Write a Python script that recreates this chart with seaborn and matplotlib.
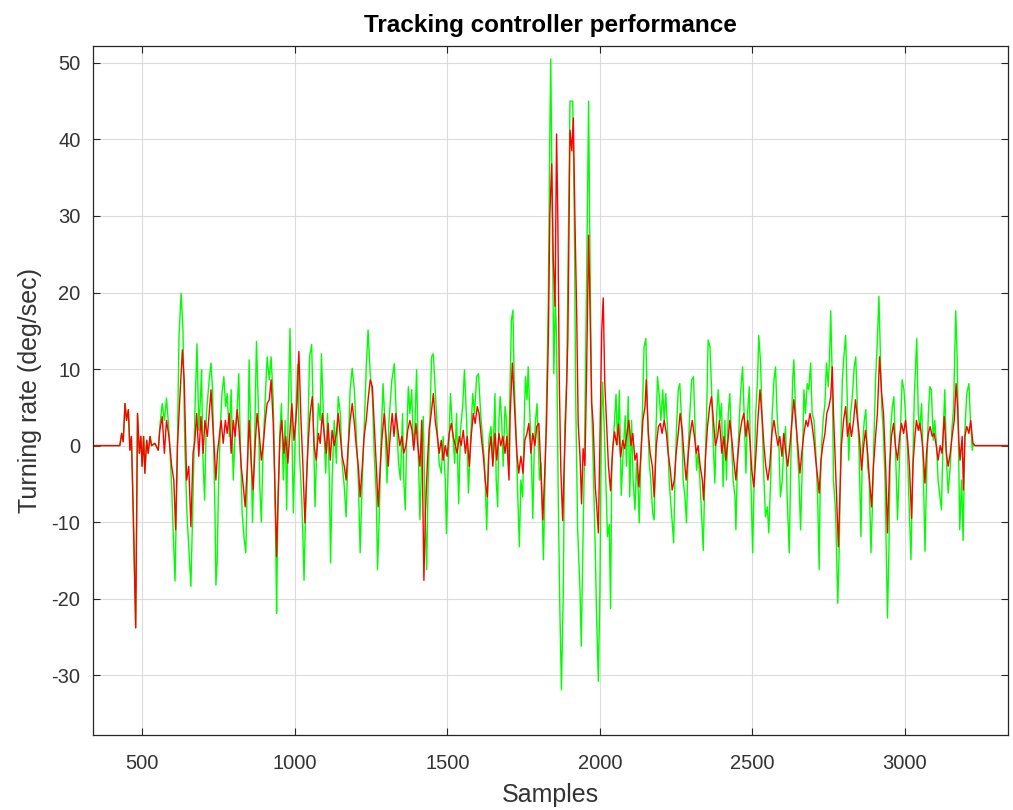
import matplotlib
matplotlib.use("Agg")
import matplotlib.pyplot as plt
import seaborn as sns

# Measured turning rate (green), sample index -> deg/sec
green_x = [338, 426, 432, 437, 443, 448, 454, 459, 464, 470, 478, 484, 490, 495, 499, 504, 508, 514, 519, 525,
           530, 541, 552, 557, 565, 572, 579, 587, 596, 601, 607, 613, 620, 627, 633, 639, 646, 652, 659, 666,
           672, 679, 685, 691, 694, 698, 704, 710, 719, 725, 730, 734, 738, 741, 745, 750, 756, 761, 767, 773,
           778, 785, 791, 798, 804, 811, 816, 822, 827, 834, 839, 845, 850, 856, 861, 868, 874, 880, 885, 890,
           896, 903, 909, 916, 922, 929, 933, 938, 940, 944, 951, 956, 962, 968, 973, 978, 984, 989, 995, 1001,
           1009, 1015, 1022, 1026, 1030, 1035, 1042, 1048, 1055, 1060, 1066, 1072, 1077, 1083, 1087, 1094, 1101, 1107, 1113, 1117,
           1122, 1129, 1136, 1142, 1149, 1155, 1162, 1168, 1175, 1181, 1188, 1195, 1201, 1208, 1214, 1221, 1227, 1234, 1240, 1247,
           1254, 1260, 1267, 1271, 1277, 1282, 1289, 1295, 1302, 1308, 1318, 1326, 1333, 1340, 1346, 1353, 1357, 1362, 1366, 1372,
           1377, 1383, 1388, 1393, 1399, 1404, 1410, 1415, 1421, 1427, 1432, 1437, 1443, 1448, 1454, 1460, 1467, 1473, 1480, 1486,
           1493, 1497, 1503, 1510, 1517, 1524, 1530, 1537, 1543, 1550, 1556, 1563, 1569, 1576, 1583, 1589, 1596, 1602, 1609, 1615,
           1622, 1629, 1636, 1643, 1649, 1656, 1660, 1665, 1669, 1673, 1678, 1683, 1689, 1694, 1700, 1706, 1710, 1715, 1719, 1724,
           1730, 1736, 1741, 1747, 1752, 1756, 1761, 1765, 1771, 1776, 1780, 1785, 1789, 1794, 1798, 1802, 1807, 1811, 1815, 1820,
           1825, 1831, 1836, 1839, 1844, 1849, 1854, 1858, 1864, 1869, 1874, 1880, 1885, 1891, 1896, 1902, 1911, 1916, 1921, 1927,
           1935, 1939, 1943, 1949, 1954, 1959, 1963, 1967, 1973, 1978, 1985, 1989, 1995, 2000, 2005, 2009, 2014, 2020, 2025, 2031,
           2035, 2039, 2046, 2053, 2058, 2064, 2070, 2077, 2083, 2087, 2093, 2098, 2104, 2109, 2115, 2120, 2126, 2129, 2134, 2140,
           2145, 2151, 2156, 2162, 2167, 2173, 2178, 2184, 2189, 2195, 2200, 2206, 2211, 2216, 2222, 2227, 2235, 2242, 2246, 2251,
           2257, 2262, 2268, 2273, 2279, 2284, 2290, 2295, 2301, 2307, 2312, 2317, 2322, 2328, 2333, 2339, 2344, 2350, 2355, 2361,
           2366, 2372, 2377, 2383, 2388, 2394, 2399, 2404, 2410, 2415, 2421, 2426, 2432, 2437, 2443, 2446, 2451, 2457, 2462, 2468,
           2473, 2479, 2484, 2490, 2495, 2501, 2506, 2511, 2517, 2521, 2527, 2532, 2538, 2543, 2549, 2554, 2560, 2565, 2571, 2576,
           2581, 2587, 2592, 2598, 2603, 2609, 2614, 2621, 2626, 2632, 2636, 2642, 2647, 2653, 2658, 2664, 2669, 2674, 2680, 2685,
           2691, 2696, 2702, 2707, 2714, 2719, 2722, 2727, 2732, 2738, 2743, 2749, 2754, 2757, 2762, 2766, 2773, 2777, 2780, 2785,
           2790, 2795, 2800, 2806, 2811, 2816, 2822, 2827, 2834, 2839, 2845, 2850, 2856, 2861, 2867, 2872, 2878, 2883, 2889, 2893,
           2898, 2904, 2909, 2915, 2919, 2924, 2929, 2935, 2939, 2943, 2948, 2953, 2959, 2964, 2969, 2976, 2982, 2987, 2991, 2997,
           3002, 3008, 3013, 3020, 3025, 3031, 3039, 3044, 3049, 3055, 3060, 3066, 3071, 3077, 3082, 3087, 3093, 3098, 3104, 3109,
           3115, 3120, 3126, 3131, 3137, 3142, 3149, 3154, 3160, 3164, 3167, 3172, 3176, 3180, 3186, 3191, 3197, 3203, 3210, 3215,
           3221, 3225, 3230, 3338]
green_y = [0, 0, 1.6, 0.5, 5.5, 3.3, 4.7, -0.6, 1.2, -8.8, -23.8, 4.2, -1, 1.2, -2.7, 1.2, -3.6, 0.7, -1, 1.2,
           0, 0.3, -0.6, 2.5, 5.5, 3.3, 6.2, 2, -5.4, -11.4, -17.7, -4.5, 14.2, 19.9, 15.1, 0, -8.8, -13.2, -18.4, -6.7,
           4.2, 13.3, 2, 6.8, 9.9, -1, -7.1, 4.2, 8.6, 10.8, 7.3, -1, -8.8, -18.2, -15.3, -4.5, 2.9, 6.8, 9, 5.1,
           6.8, 1.2, 7.3, -4.5, 2, 5.1, 9.4, -1, -8.8, -12.3, -14, -2.3, 11.2, 0, -10, 0.7, 13.6, 5.5, -5.4, -10,
           0, 6.4, 11.6, 8.6, 11.6, 6, -2.3, -15.3, -21.9, -8.8, 2, 5.5, -4.5, 3.3, -8.4, 4.2, 15.3, 4.2, -8.8, 1.2,
           10.6, -1, -6.7, -11.5, -17.6, -8.8, 0, 11.6, 13.2, 4.2, -8, 0, 5.5, 3.3, 12, 3.3, -3.6, 4.2, -4.5, -15.3,
           -4.5, 3.3, -2.3, 6.4, 4.2, -2.3, -5.4, -9.3, 0, 7.3, 10.1, 7.3, 2, -4.5, -14, -4.5, 2, 10.3, 15.1, 9.4,
           6.4, -1, -6.7, -16.2, -8.8, 0, 8.1, 3.3, -4.9, 2.9, 8.6, 10.7, 3.3, -2.3, -4.5, 4.2, -4.5, -8.4, 0, 7.7,
           4.2, 7.3, 0, 2, 9.9, 0, -9.7, -2.3, 3.8, -8.8, -16.2, -4.5, 3.3, 11.6, 12, 7.3, 2, -2.3, -3.6, 1.2,
           -4.5, -11.5, -2.3, 6.8, 2, -2.3, 4.2, -7.6, 2, 5.1, 9.9, 3.3, -6.2, 0.7, 6.8, 4.2, 9, 9.4, 4.2, 1.2,
           -2.3, -11, 0.7, 2.5, -2.3, 6.8, -4.5, -8, 3.3, 6.4, 3.3, -2.7, 5.1, 3.3, -2.7, 8.6, 16.4, 17.7, 8.6, 3.3,
           -5.4, -13.2, -4.5, -6.7, 3.3, 9, 6, 10.3, 3.3, -2.3, -9.5, 0, 3.3, 5.5, 0.7, -4.5, -2.3, -8.8, -14.9, -4.5,
           5.6, 19.3, 41.2, 50.5, 30.2, 9.4, 19.3, 13.8, -8.1, -21.8, -31.9, -19.1, 2.8, 8.3, 24.8, 45, 45, 30.2, 5.6, -10.8,
           -19.1, -26.2, -16.3, -2.6, 13.8, 30.2, 45, 27.5, 5.6, -2.6, -13.6, -21.8, -30.8, -19.1, 2.8, 8.3, 2.8, -5.4, -11.9, -10.3,
           -21.3, -2.6, 1.8, 6.7, 0.1, 7.2, -6.5, -0.4, 3.9, -2.7, 6.4, -6.7, 3.3, -4.5, -8.4, -2.3, -6.2, -10.1, -2.3, 5.1,
           12.9, 14, 4.2, -2.3, -4.5, -8.8, -9.7, 2, 9, 6.4, 3.3, 7.3, 3.3, 6.8, 2, -4.5, -8.8, -12.7, -4.5, 2,
           7.3, 8.1, 3.3, -4.5, -6.7, -10.1, 0, 4.2, 8.6, 9, 2.5, -3.2, -1, -4.5, -8.8, -13.7, -4.5, 4.2, 13.8, 12.9,
           7.7, 0, -4.9, 4.2, 7.3, 3.3, 5.5, -5.4, 3.3, -4.5, 4.2, 6.8, 0, -4.5, -6.7, -11, -2.3, 3.3, 7.3, 10.3,
           4.2, -3.6, 4.2, 7.7, -4.5, -14, -4.5, 4.2, 8.6, 14.4, 10.8, 3.3, -4.5, -9.3, -8, -11.4, -4.5, 4.2, 8.6, 10.3,
           4.2, 0, -6.7, -4.5, 0, 2.5, -6.7, -14, -2.3, 8.6, 11.2, 4.2, 0, -4.5, -11, -2.3, 7.3, 4.2, 8.1, 7.3,
           10.8, 4.2, 3.3, 0, -6.7, -16.2, -6.7, 0, 3.3, 5.5, 10.8, 7.7, 12.9, 17.6, 8.6, -4.5, -8.8, -15.3, -20.6, -13.2,
           0, 8.6, 11.6, 14.4, 6.4, -1.9, 4.2, 6, 10.3, 11.6, 4.2, -1, -11.9, 0, 3.3, 4.7, -2.7, -4.5, -14, -8.8,
           0, 8.6, 12.9, 19.5, 12.9, 5.1, 2, -4.5, -13.2, -22.5, -13.2, 2, 5.1, 6.4, 0, -9.7, -2.3, 4.2, 8.6, 7.3,
           4.2, 0, -6.7, -14.9, -4.5, 6.4, 14, 4.2, 2, 5.5, -2.3, -13.8, -4.5, 4.2, 7.7, 7.3, 0.7, 3.3, 0, -4.5,
           -6.7, -8.4, 2, 7.3, -2.3, -6.2, -2.7, 2, 5.1, 12.9, 17.6, 10.8, 0, -11, -4.5, -12.4, 2, 6.8, 8.1, 3.3,
           -0.6, 0.3, 0, 0]

# Controller output (red), sample index -> deg/sec
red_x = [338, 426, 432, 437, 443, 448, 454, 459, 464, 470, 478, 484, 490, 495, 499, 504, 508, 514, 519, 525,
         530, 541, 552, 557, 565, 572, 579, 587, 596, 603, 609, 615, 623, 631, 637, 645, 652, 659, 666, 672,
         678, 685, 692, 699, 705, 713, 719, 725, 730, 735, 741, 746, 752, 758, 765, 772, 778, 785, 791, 798,
         804, 811, 817, 824, 831, 837, 844, 850, 857, 863, 870, 876, 883, 890, 896, 903, 909, 916, 922, 929,
         934, 940, 945, 951, 957, 964, 970, 977, 984, 990, 997, 1003, 1007, 1013, 1020, 1026, 1033, 1038, 1044, 1050,
         1057, 1063, 1070, 1077, 1083, 1090, 1096, 1103, 1109, 1116, 1122, 1129, 1136, 1142, 1149, 1155, 1162, 1168, 1175, 1181,
         1188, 1195, 1201, 1208, 1214, 1221, 1227, 1234, 1240, 1247, 1254, 1260, 1267, 1273, 1280, 1286, 1293, 1299, 1306, 1313,
         1319, 1325, 1331, 1338, 1344, 1351, 1357, 1364, 1370, 1377, 1384, 1390, 1397, 1403, 1410, 1416, 1423, 1428, 1434, 1440,
         1447, 1454, 1460, 1467, 1473, 1480, 1486, 1493, 1499, 1506, 1513, 1519, 1526, 1532, 1539, 1545, 1552, 1559, 1565, 1572,
         1578, 1585, 1591, 1598, 1604, 1611, 1618, 1624, 1631, 1636, 1643, 1649, 1656, 1662, 1669, 1675, 1682, 1689, 1695, 1702,
         1706, 1713, 1717, 1721, 1728, 1734, 1741, 1748, 1754, 1761, 1767, 1774, 1780, 1787, 1793, 1800, 1807, 1813, 1820, 1825,
         1831, 1836, 1842, 1847, 1853, 1858, 1862, 1867, 1872, 1878, 1883, 1889, 1895, 1902, 1908, 1913, 1918, 1924, 1929, 1935,
         1940, 1945, 1951, 1956, 1963, 1967, 1973, 1978, 1985, 1990, 1995, 2000, 2006, 2011, 2016, 2022, 2028, 2035, 2042, 2048,
         2055, 2061, 2068, 2075, 2081, 2089, 2095, 2102, 2108, 2115, 2121, 2128, 2134, 2141, 2148, 2152, 2159, 2165, 2172, 2178,
         2185, 2192, 2198, 2204, 2211, 2218, 2224, 2231, 2237, 2244, 2250, 2257, 2263, 2270, 2277, 2283, 2290, 2296, 2303, 2310,
         2316, 2322, 2329, 2336, 2340, 2347, 2353, 2360, 2366, 2373, 2379, 2386, 2392, 2400, 2407, 2413, 2420, 2426, 2433, 2439,
         2446, 2453, 2459, 2466, 2472, 2479, 2485, 2492, 2498, 2505, 2512, 2518, 2525, 2531, 2538, 2544, 2551, 2557, 2564, 2571,
         2577, 2584, 2590, 2597, 2603, 2610, 2616, 2623, 2630, 2636, 2643, 2649, 2656, 2662, 2669, 2676, 2682, 2689, 2695, 2702,
         2708, 2715, 2719, 2725, 2731, 2738, 2744, 2751, 2757, 2762, 2766, 2771, 2775, 2782, 2787, 2792, 2799, 2806, 2812, 2819,
         2825, 2832, 2838, 2845, 2851, 2858, 2865, 2871, 2878, 2884, 2891, 2897, 2904, 2910, 2917, 2924, 2930, 2937, 2943, 2950,
         2956, 2963, 2969, 2976, 2983, 2989, 2996, 3002, 3009, 3015, 3022, 3027, 3033, 3038, 3044, 3049, 3055, 3060, 3066, 3071,
         3077, 3083, 3090, 3096, 3103, 3109, 3116, 3122, 3129, 3136, 3142, 3149, 3155, 3162, 3168, 3173, 3177, 3181, 3188, 3192,
         3197, 3203, 3210, 3216, 3223, 3230, 3338]
red_y = [0, 0, 1.6, 0.5, 5.5, 3.3, 4.7, -0.6, 1.2, -8.8, -23.8, 4.2, -1, 1.2, -2.7, 1.2, -3.6, 0.7, -1, 1.2,
         0, 0.3, -0.6, 2, 3.8, -1, 3.3, 1.2, -2.7, -4.5, -11, 0, 6.4, 12.5, 8.6, -4.5, -2.7, -10.6, -1, 0.7,
         4.2, -1.4, 3.8, -1, 3.3, 1.2, 4.2, 7.3, 3.3, 0, -4.5, -1, 1.2, 3.3, 0.3, 3.3, 1.6, 4.2, -1, 3.3,
         1.2, 4.7, 2, -2.7, -5.4, -8, -2.7, 3.3, -2.3, -5.8, 0.3, 4.2, 1.6, -1.9, 0, 3.3, 5.5, 6, 8.6, 2.9,
         -4.5, -14.5, -6.7, 1.2, 3.3, -1, 1.2, -2.3, 2, 5.5, 0.7, 3.3, 5.5, 12.3, 3.3, -2.3, -10.1, -4.5, 0.7, 4.2,
         6.4, 0, -1.9, 1.6, 0.3, 4.2, 1.6, -1, 2.9, -1.9, 2, 0, 1.6, 4.2, 1.2, -1.4, -2.7, -4.5, 0, 3.3,
         5.5, 2.9, 0, -2.7, -6.7, -2.7, 1.2, 3.3, 6, 8.6, 7.7, 2.9, -2.7, -8, -2.7, 1.2, 4.2, 1.2, -2.7, 1.6,
         4.2, 1.2, 4.2, 2, 0, 1.2, -1, 0, 2, 3.3, 2, -0.6, 2.9, 0, -2.7, 3.3, -17.6, -8.8, -2.7, 2,
         4.2, 6.8, 3.3, 1.2, -1, 0.7, -1.9, 0, -1.4, 1.6, 2.9, 1.2, 0, -1, 1.2, 0, 2, -1, 1.2, -2.7,
         1.2, 4.2, 2.9, 5.1, 4.2, 1.2, -1.4, -4.5, -6.7, -1, 1.2, -2.7, 1.6, -1.9, 1.6, 0, 1.2, -1, 1.2, -4.5,
         4.2, 10.8, 7.7, 4.2, -1, -3.6, -1.4, -3.6, 0.7, 1.6, 2.9, -1, 1.6, 0, 2.5, 2.9, -3.6, -9.7, -2.7, 2.8,
         13.8, 30.2, 36.8, 24.8, 18.2, 40.7, 30.2, 8.3, -3.2, -9.8, -2.6, 5, 13.8, 41.2, 38.5, 42.8, 30.2, 17.1, 2.8, -1.5,
         -7.6, -0.4, -2.6, 8.3, 27.5, 19.3, 5.6, 2.8, -5.4, -8.1, -11.4, 0.1, 14.9, 19.3, 8.3, 2.8, -2.6, -5.9, -0.4, 1.8,
         0.1, 2.8, -1.5, 0.7, -0.4, 1.6, 3.3, 0, 1.6, -1.9, -1, -5.4, -1.4, 3.3, 5.1, 8.6, 1.6, -1, -2.7, -6.7,
         0, 2.5, 2.9, 1.6, 3.3, 1.6, -1, -3.2, -5.8, -4.5, -1, 1.6, 4.2, 2, -1.9, -4.5, -1, 1.6, 3.3, 1.2,
         -1, 0, -2.7, -4.5, -7.1, -1, 2.5, 5.1, 6.4, 2.9, 0, 1.2, 3.3, -1, 1.2, -1.9, 0.7, 3.3, 0.7, -1.9,
         -4.5, -1, 1.6, 3.3, 4.2, 1.2, 3.3, 0.7, -3.2, -5.4, -1, 3.3, 7.3, 4.2, 0, -2.7, -4.5, -2.7, 1.6, 3.3,
         1.6, 0, 1.2, -1.4, 1.6, -1, -2.7, 0, 3.3, 6, 2.9, 0, -3.6, -1, 1.6, 3.3, 2.5, 4.2, 2.9, 0.7,
         -1.9, -4.5, -6.2, -1.9, 0, 1.6, 4.2, 5.1, 6.4, 10.3, 4.2, -1, -5.4, -13.2, -6.7, 0, 3.3, 5.1, 1.2, 2.9,
         1.2, 3.3, 6, 3.3, 1.2, -3.2, 0, 2, -1, -4.5, -8, -2.7, 1.2, 4.2, 11.6, 6.8, 4.2, -2.7, -11.4, -2.7,
         1.2, 2.9, 0, -1.9, 1.2, 2.9, 1.6, 3.3, 0.7, -2.7, -9.5, -2.3, 1.2, 3.3, 2, 2.9, 1.2, -1, -4.9, -1,
         1.6, 2.5, 1.2, 1.6, 0, -1.9, 0, -1, 3.8, -1, -2.7, -1, 1.2, 3.3, 8.1, 5.1, 0.7, -1.9, 1.2, -5.8,
         1.2, 2.5, 1.6, 3.3, 0.3, 0, 0]

x_ticks = [500, 1000, 1500, 2000, 2500, 3000]
y_ticks = [-30, -20, -10, 0, 10, 20, 30, 40, 50]

sns.set_theme(style="whitegrid")
plt.rcParams["font.family"] = ["Liberation Sans", "DejaVu Sans"]

ink = "#262626"
label_ink = "#333333"
fig = plt.figure(figsize=(10.13, 8.10), dpi=100, facecolor="white")
ax = fig.add_axes([0.0918, 0.0926, 0.9032, 0.8506])
ax.set_facecolor("white")

sns.lineplot(x=green_x, y=green_y, color="#00ff00", linewidth=1.0,
             estimator=None, sort=False, ax=ax)
sns.lineplot(x=red_x, y=red_y, color="#ff0000", linewidth=1.0,
             estimator=None, sort=False, ax=ax)

ax.set_xlim(338, 3338)
ax.set_ylim(-37.8, 52.2)
ax.set_xticks(x_ticks)
ax.set_yticks(y_ticks)
ax.set_xticklabels([str(t) for t in x_ticks])
ax.set_yticklabels([str(t) for t in y_ticks])

ax.grid(True, color="#dcdcdc", linewidth=0.8)
for side in ["left", "right", "top", "bottom"]:
    ax.spines[side].set_visible(True)
    ax.spines[side].set_color(ink)
    ax.spines[side].set_linewidth(0.9)
ax.tick_params(direction="in", length=5, width=0.8, top=True, right=True,
               bottom=True, left=True, labelsize=14.5, colors=ink,
               labelcolor=label_ink)
ax.tick_params(axis="x", pad=14)
ax.tick_params(axis="y", pad=9)

ax.set_title("Tracking controller performance", fontsize=17.5, fontweight="bold",
             color="black", pad=10)
ax.set_xlabel("Samples", fontsize=18, color=label_ink, labelpad=7)
ax.set_ylabel("Turning rate (deg/sec)", fontsize=18, color=label_ink, labelpad=7)

fig.savefig("out.png", dpi=100, facecolor="white")
